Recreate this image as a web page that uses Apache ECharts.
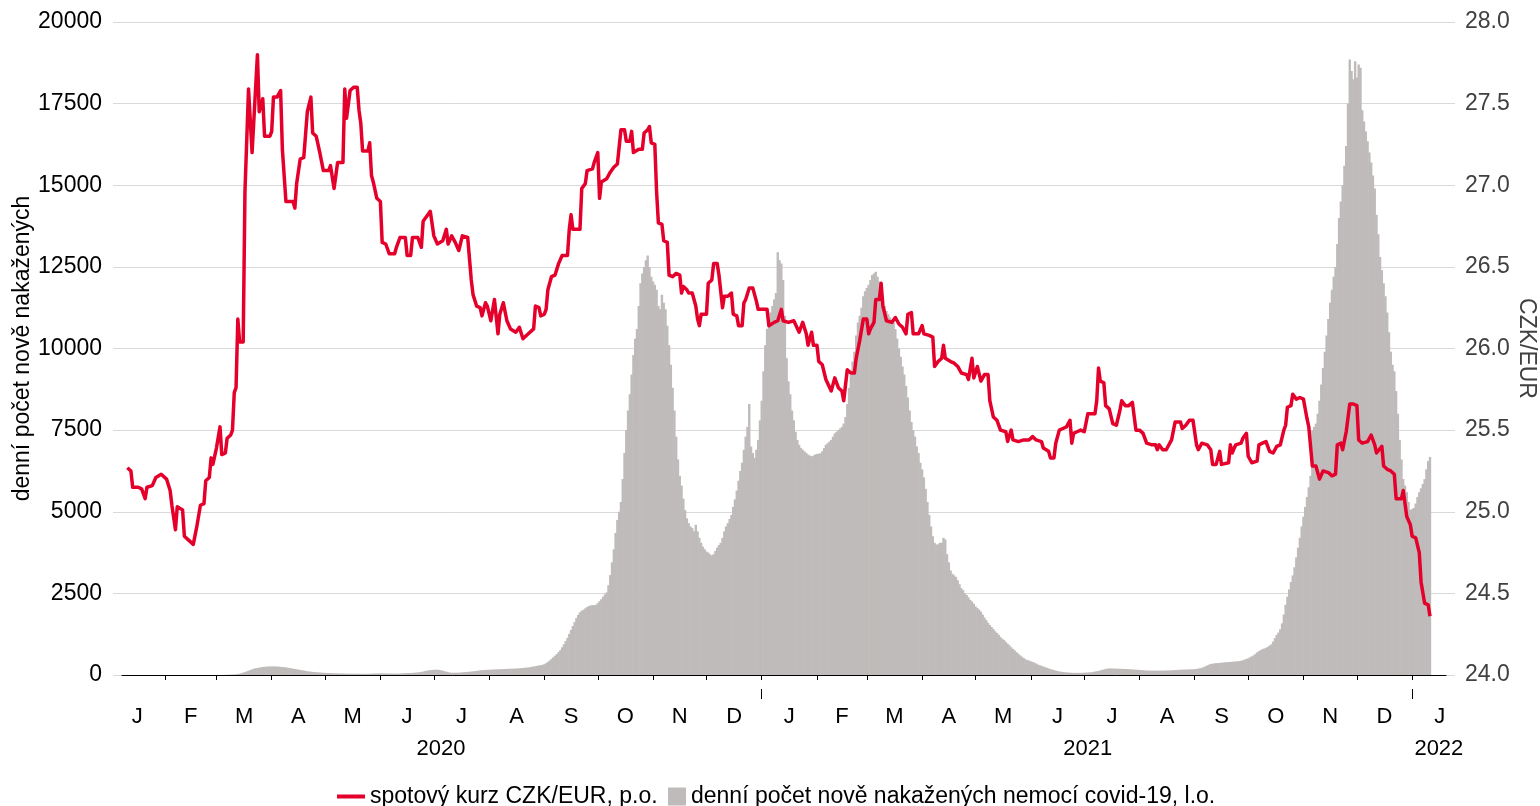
<!DOCTYPE html>
<html>
<head>
<meta charset="utf-8">
<title>Kurz CZK/EUR a covid-19</title>
<script src="https://cdn.jsdelivr.net/npm/echarts@6/dist/echarts.min.js"></script>
<style>
  html, body { margin: 0; padding: 0; background: #fff; }
  #chart { width: 1540px; height: 806px; }
</style>
</head>
<body>
<div id="chart"></div>
<script>
const DAY = 24 * 3600 * 1000
const T0 = Date.UTC(2020, 0, 1)

// rozsah osy x
const xMin = Date.UTC(2020, 0, 8)
const xMax = Date.UTC(2022, 0, 20)

const monthLetters = ['J', 'F', 'M', 'A', 'M', 'J', 'J', 'A', 'S', 'O', 'N', 'D']
const yearLabelDates = [Date.UTC(2020, 6, 5), Date.UTC(2021, 6, 3), Date.UTC(2022, 0, 16)]
const yearTicks = [Date.UTC(2021, 0, 1), Date.UTC(2022, 0, 1)]

// spotový kurz CZK/EUR: [den od 1. 1. 2020, kurz]
const fxDaily = [
  [10,25.27],[12,25.25],[13,25.15],[16,25.15],[18,25.14],[20,25.08],[21,25.15],[24,25.16],[26,25.21],[29,25.23],[30,25.24],
  [32,25.20],[34,25.13],[35,25.04],[37,24.89],[38,25.03],[41,25.01],[42,24.85],[45,24.82],[47,24.80],[49,24.91],[51,25.04],[53,25.05],[54,25.19],[56,25.21],[57,25.33],[58,25.29],
  [60,25.39],[62,25.52],[63,25.35],[65,25.36],[66,25.45],[68,25.47],[69,25.50],[70,25.73],[71,25.76],[72,26.18],[73,26.04],[75,26.04],[76,26.96],[77,26.97],[78,27.59],[80,27.20],[81,27.20],[83,27.80],[84,27.45],[86,27.53],[87,27.30],[90,27.30],
  [91,27.33],[92,27.54],[94,27.54],[96,27.58],[97,27.22],[99,26.90],[103,26.90],[104,26.86],[105,27.01],[107,27.16],[109,27.17],[111,27.45],[113,27.54],[114,27.32],[116,27.30],[118,27.20],[120,27.09],
  [123,27.09],[124,27.12],[126,26.98],[127,26.99],[128,27.14],[131,27.14],[132,27.59],[133,27.41],[134,27.41],[135,27.58],[137,27.60],[139,27.60],[140,27.46],[141,27.38],[142,27.21],[145,27.21],[146,27.26],[147,27.06],[148,27.02],[150,26.92],
  [152,26.90],[153,26.65],[155,26.64],[157,26.58],[160,26.58],[161,26.62],[163,26.68],[166,26.68],[167,26.57],[169,26.57],[170,26.68],[173,26.68],[175,26.62],[176,26.78],[178,26.81],[180,26.84],
  [182,26.69],[184,26.64],[187,26.66],[189,26.73],[190,26.64],[192,26.69],[194,26.65],[196,26.60],[198,26.69],[201,26.68],[203,26.42],[204,26.33],[206,26.26],[208,26.25],[209,26.20],[211,26.28],[212,26.26],
  [214,26.17],[216,26.30],[218,26.09],[219,26.21],[221,26.28],[223,26.17],[225,26.12],[228,26.10],[230,26.13],[232,26.06],[235,26.09],[238,26.12],[239,26.26],[241,26.25],[242,26.20],
  [244,26.21],[245,26.24],[246,26.36],[248,26.44],[250,26.45],[252,26.52],[254,26.57],[257,26.57],[258,26.73],[259,26.82],[260,26.73],[264,26.73],[265,26.98],[267,27.01],[268,27.09],[271,27.10],[272,27.14],
  [274,27.20],[275,26.92],[276,27.02],[279,27.04],[281,27.08],[283,27.11],[285,27.13],[287,27.34],[289,27.34],[290,27.27],[292,27.27],[293,27.33],[294,27.20],[297,27.22],[299,27.22],[300,27.32],[302,27.34],[303,27.36],[304,27.26],
  [306,27.25],[307,26.96],[308,26.77],[310,26.76],[311,26.66],[313,26.65],[314,26.45],[316,26.44],[318,26.46],[320,26.45],[321,26.34],[322,26.38],[324,26.36],[325,26.34],[327,26.34],[329,26.26],[330,26.18],[331,26.14],[332,26.21],
  [335,26.21],[336,26.40],[338,26.42],[339,26.52],[341,26.52],[342,26.45],[344,26.25],[345,26.32],[347,26.32],[349,26.34],[350,26.21],[352,26.20],[353,26.14],[355,26.14],[356,26.28],[357,26.30],[359,26.37],[361,26.37],[363,26.29],[364,26.24],
  [366,26.24],[369,26.24],[370,26.14],[373,26.16],[375,26.17],[377,26.24],[378,26.17],[381,26.16],[384,26.17],[387,26.10],[389,26.16],[391,26.09],[392,26.02],[394,26.10],[395,26.02],
  [397,26.02],[398,25.92],[400,25.90],[402,25.81],[403,25.81],[405,25.74],[406,25.74],[407,25.82],[409,25.76],[411,25.74],[412,25.68],[414,25.87],[416,25.85],[418,25.85],[419,25.94],[420,25.94],[421,26.05],[423,26.18],
  [425,26.18],[426,26.09],[427,26.12],[429,26.16],[430,26.30],[432,26.30],[433,26.40],[434,26.26],[436,26.17],[439,26.16],[441,26.19],[443,26.15],[445,26.13],[447,26.09],[448,26.21],[450,26.22],[451,26.09],[454,26.09],
  [456,26.14],[457,26.09],[460,26.08],[462,26.07],[463,25.89],[465,25.92],[467,25.94],[468,26.02],[469,25.94],[472,25.92],[474,25.91],[476,25.89],[478,25.85],[481,25.84],[482,25.81],[484,25.94],[485,25.82],
  [487,25.89],[488,25.88],[489,25.80],[491,25.84],[493,25.84],[494,25.68],[495,25.67],[496,25.58],[498,25.56],[500,25.50],[503,25.49],[504,25.43],[505,25.43],[506,25.50],[507,25.44],[510,25.43],[513,25.44],[516,25.44],
  [518,25.46],[520,25.44],[523,25.43],[524,25.39],[527,25.37],[528,25.33],[530,25.33],[531,25.42],[533,25.50],[535,25.51],[537,25.52],[539,25.56],[540,25.42],[541,25.48],[543,25.49],[545,25.50],
  [547,25.49],[549,25.60],[550,25.60],[553,25.60],[554,25.68],[555,25.88],[556,25.80],[558,25.79],[559,25.65],[561,25.63],[563,25.54],[565,25.53],[567,25.62],[568,25.68],[570,25.65],[572,25.65],[574,25.67],[576,25.50],
  [578,25.50],[580,25.48],[582,25.42],[585,25.41],[587,25.41],[588,25.38],[589,25.41],[591,25.38],[593,25.38],[595,25.42],[596,25.44],[598,25.55],[601,25.55],[602,25.51],[604,25.53],[606,25.56],[608,25.56],
  [610,25.41],[611,25.38],[613,25.42],[616,25.41],[618,25.38],[619,25.29],[621,25.29],[623,25.37],[624,25.29],[628,25.30],[629,25.41],[630,25.36],[632,25.41],[635,25.42],[636,25.45],[638,25.48],
  [639,25.34],[641,25.30],[644,25.31],[645,25.41],[647,25.42],[649,25.43],[651,25.37],[653,25.36],[655,25.40],[657,25.41],[659,25.50],[660,25.53],[661,25.64],[663,25.65],[664,25.72],[666,25.69],[668,25.70],
  [670,25.69],[672,25.57],[673,25.52],[675,25.28],[677,25.28],[679,25.20],[681,25.25],[684,25.24],[686,25.22],[688,25.23],[689,25.41],[691,25.42],[692,25.38],[694,25.49],[695,25.49],[696,25.66],[698,25.66],
  [700,25.65],[701,25.44],[703,25.42],[706,25.43],[708,25.47],[710,25.41],[711,25.36],[712,25.36],[714,25.40],[715,25.28],[717,25.26],[719,25.25],[721,25.23],[722,25.08],[725,25.08],[726,25.13],[728,24.97],[730,24.92],
  [731,24.85],[733,24.84],[735,24.75],[736,24.57],[738,24.44],[740,24.43],[741,24.36]
]

// denní počet nově nakažených, od 1. 3. 2020
const covidStart = Date.UTC(2020, 2, 1)
const covidCases = [
  // 2020-03
  0,0,0,1,2,3,5,8,10,13,17,22,30,40,55,70,90,110,130,150,170,190,205,215,225,235,245,250,255,260,262,
  // 2020-04
  262,262,260,258,255,250,245,240,232,224,215,205,195,185,175,165,155,145,135,125,115,107,100,95,90,85,80,76,72,68,
  // 2020-05
  65,62,60,57,55,52,50,48,46,45,44,42,40,40,39,38,38,37,37,36,36,35,35,35,36,38,40,42,44,46,48,
  // 2020-06
  48,48,47,46,45,44,43,42,42,42,43,45,48,52,55,58,60,62,65,68,72,78,85,95,105,118,130,140,150,155,
  // 2020-07
  160,162,160,155,145,130,115,100,85,75,70,68,68,70,72,75,80,85,90,95,100,105,110,118,125,132,140,148,152,155,158,
  // 2020-08
  160,162,165,168,170,172,175,178,180,183,186,188,190,192,195,198,200,205,210,215,220,225,230,240,250,260,270,280,290,300,310,
  // 2020-09
  330,360,400,440,490,540,590,640,700,760,850,940,1040,1140,1260,1380,1500,1620,1740,1840,1920,1970,2000,2040,2080,2110,2130,2140,2140,2150,
  // 2020-10
  2200,2260,2320,2400,2470,2530,2750,3060,3450,3850,4350,4750,5000,5300,6000,6800,7500,8100,8600,9200,9800,10300,10600,11300,12000,12300,12500,12700,12850,12500,12200,
  // 2020-11
  12050,11950,11800,11300,11200,11650,11400,11200,10700,10100,9500,8800,8100,7300,6600,6100,5800,5400,5050,4800,4650,4550,4500,4400,4600,4400,4200,4050,3930,3850,
  // 2020-12
  3780,3750,3700,3660,3700,3800,3900,3980,4050,4200,4400,4550,4650,4780,4900,5150,5380,5650,5950,6250,6500,6900,7300,7600,8300,7000,6800,6650,6900,7200,7800,
  // 2021-01
  8400,9300,10100,10600,10900,11100,11300,11500,11700,12950,12700,12600,12100,11000,9700,9000,8600,8100,7800,7450,7200,7050,6950,6900,6850,6800,6750,6720,6700,6720,6750,
  // 2021-02
  6770,6780,6790,6850,6950,7050,7100,7150,7200,7300,7400,7450,7500,7550,7600,7700,7900,8300,8800,9200,9600,9900,10400,10800,11000,11250,11600,11750,
  // 2021-03
  11850,11950,12100,12250,12300,12350,12200,12050,11900,11600,11300,11150,11050,10950,10850,10800,10600,10300,10000,9750,9450,9200,8850,8500,8100,7750,7500,7300,7000,6800,6500,
  // 2021-04
  6300,6050,5700,5300,4900,4550,4250,4050,4000,4000,4050,4050,4200,4150,3700,3450,3200,3100,3050,3000,2900,2780,2660,2600,2500,2450,2380,2300,2250,2180,
  // 2021-05
  2100,2050,2000,1940,1850,1760,1680,1600,1530,1470,1410,1340,1290,1230,1160,1110,1070,1010,960,910,850,800,750,700,650,600,560,520,480,460,440,
  // 2021-06
  420,400,380,350,320,300,280,260,240,220,200,180,165,150,135,120,110,100,90,85,80,75,70,68,66,65,65,65,66,68,
  // 2021-07
  70,72,75,80,85,95,105,115,125,140,155,170,185,195,200,200,198,196,194,192,190,188,186,184,182,178,174,170,166,162,160,
  // 2021-08
  155,150,145,140,137,135,134,133,133,132,132,132,133,133,134,136,138,140,143,146,150,154,158,160,163,165,167,169,171,173,175,
  // 2021-09
  180,185,195,205,220,240,265,290,315,335,345,355,360,365,370,375,380,385,390,395,400,405,410,415,420,425,435,450,470,490,
  // 2021-10
  510,540,570,600,640,690,730,760,790,810,830,860,900,940,1020,1130,1230,1300,1400,1580,1850,2150,2400,2620,2850,3050,3300,3600,3900,4200,4550,
  // 2021-11
  4850,5150,5450,5750,6100,7500,7600,7700,8000,8400,8900,9400,9900,10400,10900,11400,11800,12200,12500,13200,14000,14500,15000,15600,16200,17500,18850,18500,18250,18800,
  // 2021-12
  18300,18700,18600,17300,16950,16650,16350,16000,15700,15300,14900,14100,13500,12800,12400,12000,11600,11100,10500,9900,9500,9300,8700,8000,7200,6600,6000,5800,5600,5300,5060,
  // 2022-01
  5080,5120,5250,5450,5600,5720,5850,6000,6300,6550,6680
]

// začátky a středy měsíců pro osu x
const monthStarts = []
for (let m = 0; m <= 25; m++) monthStarts.push(Date.UTC(2020, m, 1))
const monthTicks = monthStarts.filter(t => t > xMin && t < xMax)
const monthMids = []
for (let m = 0; m < 25; m++) monthMids.push((monthStarts[m] + monthStarts[m + 1]) / 2)

const fxData = fxDaily.map(p => [T0 + p[0] * DAY, p[1]])
const covidData = covidCases.map((v, i) => [covidStart + i * DAY, v])

const FONT = 'Liberation Sans, Arial, sans-serif'
const RED = '#e4002b'
const GREY = '#bfbbba'

let option = {
  animation: false,
  textStyle: { fontFamily: FONT },
  grid: [
    // rám s mřížkou a popisky os y
    { left: 113, right: 85, top: 22, bottom: 131, outerBoundsMode: 'none', containLabel: false },
    // plocha s daty
    { left: 122, right: 94, top: 22, bottom: 131, outerBoundsMode: 'none', containLabel: false },
  ],
  legend: [
    {
      data: [{ name: 'spotový kurz CZK/EUR, p.o.', icon: 'path://M0,0H28V4H0Z' }],
      left: 332,
      top: 780,
      itemWidth: 28,
      itemHeight: 18,
      textStyle: { fontSize: 23, color: '#000', fontFamily: FONT },
    },
    {
      data: [{ name: 'denní počet nově nakažených nemocí covid-19, l.o.', icon: 'rect' }],
      left: 663,
      top: 780,
      itemWidth: 18,
      itemHeight: 18,
      textStyle: { fontSize: 23, color: '#000', fontFamily: FONT },
    },
  ],
  xAxis: [
    { type: 'value', gridIndex: 0, show: false, min: 0, max: 1 },
    {
      type: 'value',
      gridIndex: 1,
      position: 'bottom',
      min: xMin,
      max: xMax,
      offset: 14,
      axisLine: { lineStyle: { color: '#000', width: 1 } },
      axisTick: { customValues: monthTicks, length: 5, lineStyle: { color: '#000' } },
      axisLabel: {
        customValues: monthMids,
        formatter: v => monthLetters[new Date(v).getUTCMonth()],
        fontSize: 22,
        color: '#000',
        margin: 17,
        fontFamily: FONT,
      },
      splitLine: { show: false },
    },
    {
      type: 'value',
      gridIndex: 1,
      position: 'bottom',
      min: xMin,
      max: xMax,
      offset: 14,
      axisLine: { show: false },
      axisTick: { customValues: yearTicks, length: 10, lineStyle: { color: '#000' } },
      axisLabel: {
        customValues: yearLabelDates,
        formatter: v => String(new Date(v).getUTCFullYear()),
        fontSize: 22,
        color: '#000',
        margin: 49,
        fontFamily: FONT,
      },
      splitLine: { show: false },
    },
  ],
  yAxis: [
    {
      type: 'value',
      gridIndex: 0,
      position: 'left',
      min: 0,
      max: 20000,
      interval: 2500,
      name: 'denní počet nově nakažených',
      nameLocation: 'middle',
      nameGap: 79,
      nameMoveOverlap: false,
      nameTextStyle: { fontSize: 23, color: '#000', fontFamily: FONT },
      axisLine: { show: false },
      axisTick: { show: false },
      axisLabel: { fontSize: 23, color: '#000', margin: 11, fontFamily: FONT, formatter: v => String(v) },
      splitLine: { lineStyle: { color: '#d9d9d9', width: 1 } },
    },
    {
      type: 'value',
      gridIndex: 0,
      position: 'right',
      min: 24,
      max: 28,
      interval: 0.5,
      name: 'CZK/EUR',
      nameLocation: 'middle',
      nameRotate: -90,
      nameGap: 60,
      nameMoveOverlap: false,
      nameTextStyle: { fontSize: 23, color: '#404040', fontFamily: FONT },
      axisLine: { show: false },
      axisTick: { show: false },
      axisLabel: { fontSize: 23, color: '#404040', margin: 10, fontFamily: FONT, formatter: v => v.toFixed(1) },
      splitLine: { show: false },
    },
    { type: 'value', gridIndex: 1, min: 0, max: 20000, show: false, splitLine: { show: false } },
    { type: 'value', gridIndex: 1, min: 24, max: 28, show: false, splitLine: { show: false } },
  ],
  series: [
    {
      name: 'denní počet nově nakažených nemocí covid-19, l.o.',
      type: 'bar',
      xAxisIndex: 1,
      yAxisIndex: 2,
      data: covidData,
      barWidth: 2.4,
      itemStyle: { color: GREY },
      z: 2,
    },
    {
      name: 'spotový kurz CZK/EUR, p.o.',
      type: 'line',
      xAxisIndex: 1,
      yAxisIndex: 3,
      data: fxData,
      symbol: 'none',
      showSymbol: false,
      lineStyle: { color: RED, width: 3.5, join: 'round' },
      itemStyle: { color: RED },
      z: 5,
    },
  ],
}

var myChart = echarts.init(document.getElementById('chart'))
myChart.setOption(option)
</script>
</body>
</html>
